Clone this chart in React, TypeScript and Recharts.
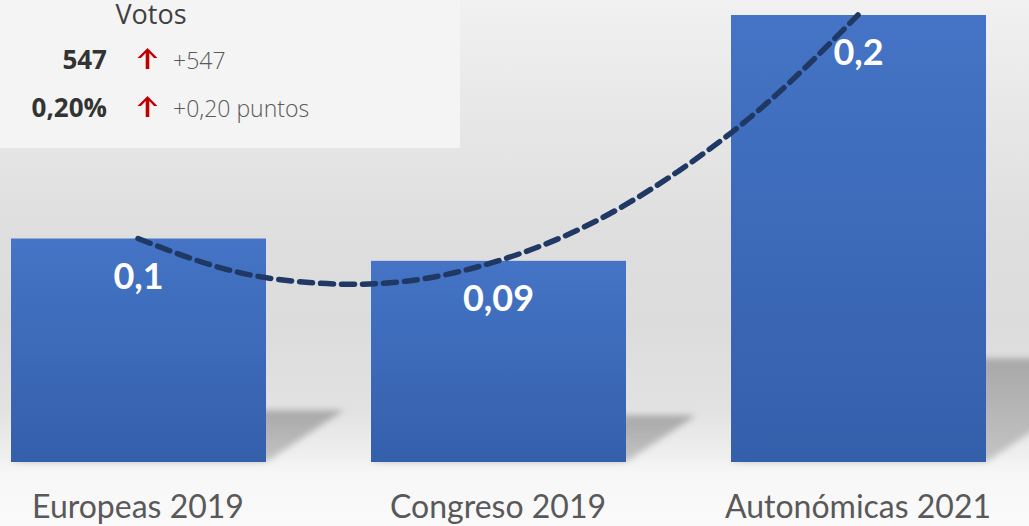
import React from 'react';
import { ComposedChart, Bar, Line, XAxis, YAxis, LabelList } from 'recharts';

const categories = ['Europeas 2019', 'Congreso 2019', 'Autonómicas 2021'];
const values = [0.1, 0.09, 0.2];
const valueLabels = ['0,1', '0,09', '0,2'];

// dashed polynomial trend (x = category position 1..3)
const trendX = [1, 1.25, 1.5, 1.75, 2, 2.25, 2.5, 2.75, 3];
const trendV = [0.1, 0.086, 0.08, 0.081, 0.09, 0.106, 0.13, 0.161, 0.2];

const boxTitle = 'Votos';
const boxRows = [
  { main: '547', delta: '+547' },
  { main: '0,20%', delta: '+0,20 puntos' },
];

const barData = categories.map((c, i) => ({ x: i + 1, name: c, v: values[i] }));
const trendData = trendX.map((x, i) => ({ x, v: trendV[i] }));

const FONT = 'Lato, "Open Sans", sans-serif';

const BarShape = (props: any) => {
  const { x, y, width, height } = props;
  const base = y + height;
  const sh = height * 0.232;
  const sw = sh * 1.5;
  const pts = `${x},${base} ${x + sw},${base - sh} ${x + width + sw},${base - sh} ${x + width},${base}`;
  return (
    <g>
      <polygon points={pts} fill="url(#shadowGrad)" filter="url(#blur)" />
      <rect x={x} y={y} width={width} height={height} fill="url(#barGrad)" />
    </g>
  );
};

const renderLabel = (props: any) => {
  const { x, y, width, index } = props;
  return (
    <text
      x={x + width / 2}
      y={y + 36}
      textAnchor="middle"
      dominantBaseline="central"
      fill="#ffffff"
      fontWeight={700}
      fontSize={36}
      fontFamily={FONT}
    >
      {valueLabels[index]}
    </text>
  );
};

const Tick = (props: any) => {
  const { x, payload } = props;
  const name = categories[Math.round(payload.value) - 1];
  return (
    <text x={x} y={518} textAnchor="middle" fill="#595959" fontSize={32} fontFamily={FONT}>
      {name}
    </text>
  );
};

const Arrow = ({ x, y }: { x: number; y: number }) => (
  <path
    d={`M ${x} ${y} L ${x + 10} ${y + 10} L ${x + 6.5} ${y + 10} L ${x + 1.8} ${y + 5} L ${x + 1.8} ${y + 21} L ${x - 1.8} ${y + 21} L ${x - 1.8} ${y + 5} L ${x - 6.5} ${y + 10} L ${x - 10} ${y + 10} Z`}
    fill="#c00000"
  />
);

export default function App() {
  return (
    <div
      style={{
        position: 'absolute',
        left: 0,
        top: 0,
        width: 1029,
        height: 526,
        overflow: 'hidden',
        background:
          'linear-gradient(to bottom, #f1f1f1 0%, #e8e8e8 20%, #dedede 45%, #dcdcdc 62%, #e2e2e2 78%, #eeeeee 86%, #f7f7f7 90%, #fafafa 100%)',
      }}
    >
      <div style={{ position: 'absolute', left: -42.5, top: 0 }}>
        <ComposedChart width={1080} height={526} data={barData} margin={{ top: 15, right: 0, bottom: 0, left: 0 }}>
          <defs>
            <linearGradient id="barGrad" x1="0" y1="0" x2="0" y2="1">
              <stop offset="0%" stopColor="#4574c6" />
              <stop offset="100%" stopColor="#345fab" />
            </linearGradient>
            <linearGradient id="shadowGrad" x1="0" y1="0" x2="0" y2="1">
              <stop offset="0%" stopColor="#a8a8a8" />
              <stop offset="100%" stopColor="#c4c4c4" />
            </linearGradient>
            <filter id="blur" x="-20%" y="-20%" width="140%" height="140%">
              <feGaussianBlur stdDeviation="3" />
            </filter>
          </defs>
          <XAxis
            xAxisId="cat"
            dataKey="x"
            type="number"
            domain={[0.5, 3.5]}
            ticks={[1, 2, 3]}
            axisLine={false}
            tickLine={false}
            height={64}
            tick={<Tick />}
            interval={0}
          />
          <XAxis xAxisId="trend" dataKey="x" type="number" domain={[0.5, 3.5]} hide />
          <YAxis hide domain={[0, 0.2]} />
          <Bar xAxisId="cat" dataKey="v" barSize={255} shape={<BarShape />} isAnimationActive={false}>
            <LabelList dataKey="v" content={renderLabel} />
          </Bar>
          <Line
            xAxisId="trend"
            data={trendData}
            dataKey="v"
            type="natural"
            stroke="#1f3864"
            strokeWidth={5.5}
            strokeDasharray="13 8"
            strokeLinecap="round"
            dot={false}
            activeDot={false}
            isAnimationActive={false}
          />
        </ComposedChart>
      </div>
      <svg width={460} height={148} style={{ position: 'absolute', left: 0, top: 0 }}>
        <rect x={0} y={0} width={460} height={148} fill="#f4f4f4" />
        <text x={151} y={24} textAnchor="middle" fontSize={27} fontFamily='"Open Sans", sans-serif' fill="#404040">
          {boxTitle}
        </text>
        {boxRows.map((r, i) => (
          <g key={i}>
            <text
              x={107}
              y={69 + i * 48}
              textAnchor="end"
              fontSize={26}
              fontWeight={700}
              fontFamily='"Open Sans", sans-serif'
              fill="#333333"
            >
              {r.main}
            </text>
            <Arrow x={147.5} y={48 + i * 48} />
            <text
              x={173}
              y={69 + i * 48}
              textAnchor="start"
              fontSize={23}
              fontWeight={300}
              fontFamily='"Open Sans", sans-serif'
              fill="#595959"
            >
              {r.delta}
            </text>
          </g>
        ))}
      </svg>
    </div>
  );
}
